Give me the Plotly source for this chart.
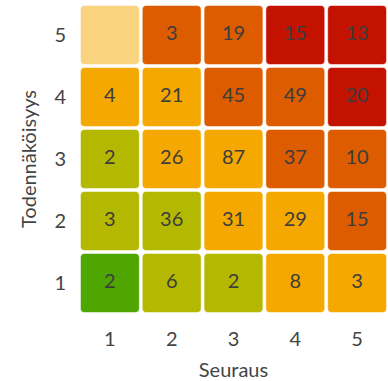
import plotly.graph_objects as go

# Risk matrix: consequence (x) vs likelihood (y)
consequence = [1, 2, 3, 4, 5]
likelihood = [1, 2, 3, 4, 5]

# Number of risks in each cell, rows ordered by likelihood 1..5
counts = [
    [2, 6, 2, 8, 3],
    [3, 36, 31, 29, 15],
    [2, 26, 87, 37, 10],
    [4, 21, 45, 49, 20],
    [None, 3, 19, 15, 13],
]

# Risk level of each cell (0 = lowest .. 4 = highest)
levels = [
    [0, 1, 1, 2, 2],
    [1, 1, 2, 2, 3],
    [1, 2, 2, 3, 3],
    [2, 2, 3, 3, 4],
    [2, 3, 3, 4, 4],
]

level_colors = ["#4fa600", "#b4b800", "#f5a800", "#de5c00", "#c41200"]

HALF = 0.476   # half cell size in axis units
R = 0.07       # corner radius in axis units
FONT = "Lato"


def rounded_rect(x0, y0, x1, y1, r):
    return (
        f"M {x0 + r},{y0} L {x1 - r},{y0} Q {x1},{y0} {x1},{y0 + r} "
        f"L {x1},{y1 - r} Q {x1},{y1} {x1 - r},{y1} "
        f"L {x0 + r},{y1} Q {x0},{y1} {x0},{y1 - r} "
        f"L {x0},{y0 + r} Q {x0},{y0} {x0 + r},{y0} Z"
    )


shapes = []
tx, ty, tt = [], [], []
for i, yv in enumerate(likelihood):
    for j, xv in enumerate(consequence):
        val = counts[i][j]
        shapes.append(dict(
            type="path",
            xref="x", yref="y",
            path=rounded_rect(xv - HALF, yv - HALF, xv + HALF, yv + HALF, R),
            fillcolor=level_colors[levels[i][j]],
            opacity=1.0 if val is not None else 0.5,
            line=dict(color="rgba(255,255,255,0.5)", width=1),
            layer="below",
        ))
        if val is not None:
            tx.append(xv)
            ty.append(yv)
            tt.append(str(val))

fig = go.Figure()
fig.add_trace(go.Scatter(
    x=tx, y=ty, text=tt, mode="text",
    textfont=dict(family=FONT, size=20, color="#3d3d3d"),
    hoverinfo="skip", showlegend=False,
))

axis_common = dict(
    range=[0.5, 5.5],
    tickvals=consequence,
    showgrid=False, zeroline=False, showline=False,
    tickfont=dict(family=FONT, size=20, color="#444444"),
    fixedrange=True,
)

fig.update_layout(
    width=388, height=381,
    margin=dict(l=79, r=0, t=4, b=67),
    paper_bgcolor="white", plot_bgcolor="white",
    shapes=shapes,
    xaxis=dict(**axis_common,
               ticks="outside", ticklen=7, tickcolor="rgba(0,0,0,0)",
               title=dict(text="Seuraus", standoff=13,
                          font=dict(family=FONT, size=20, color="#444444"))),
    yaxis=dict(**axis_common,
               ticks="outside", ticklen=8, tickcolor="rgba(0,0,0,0)",
               title=dict(text="Todennäköisyys", standoff=12,
                          font=dict(family=FONT, size=20, color="#444444"))),
)

fig.write_html("out.html")
